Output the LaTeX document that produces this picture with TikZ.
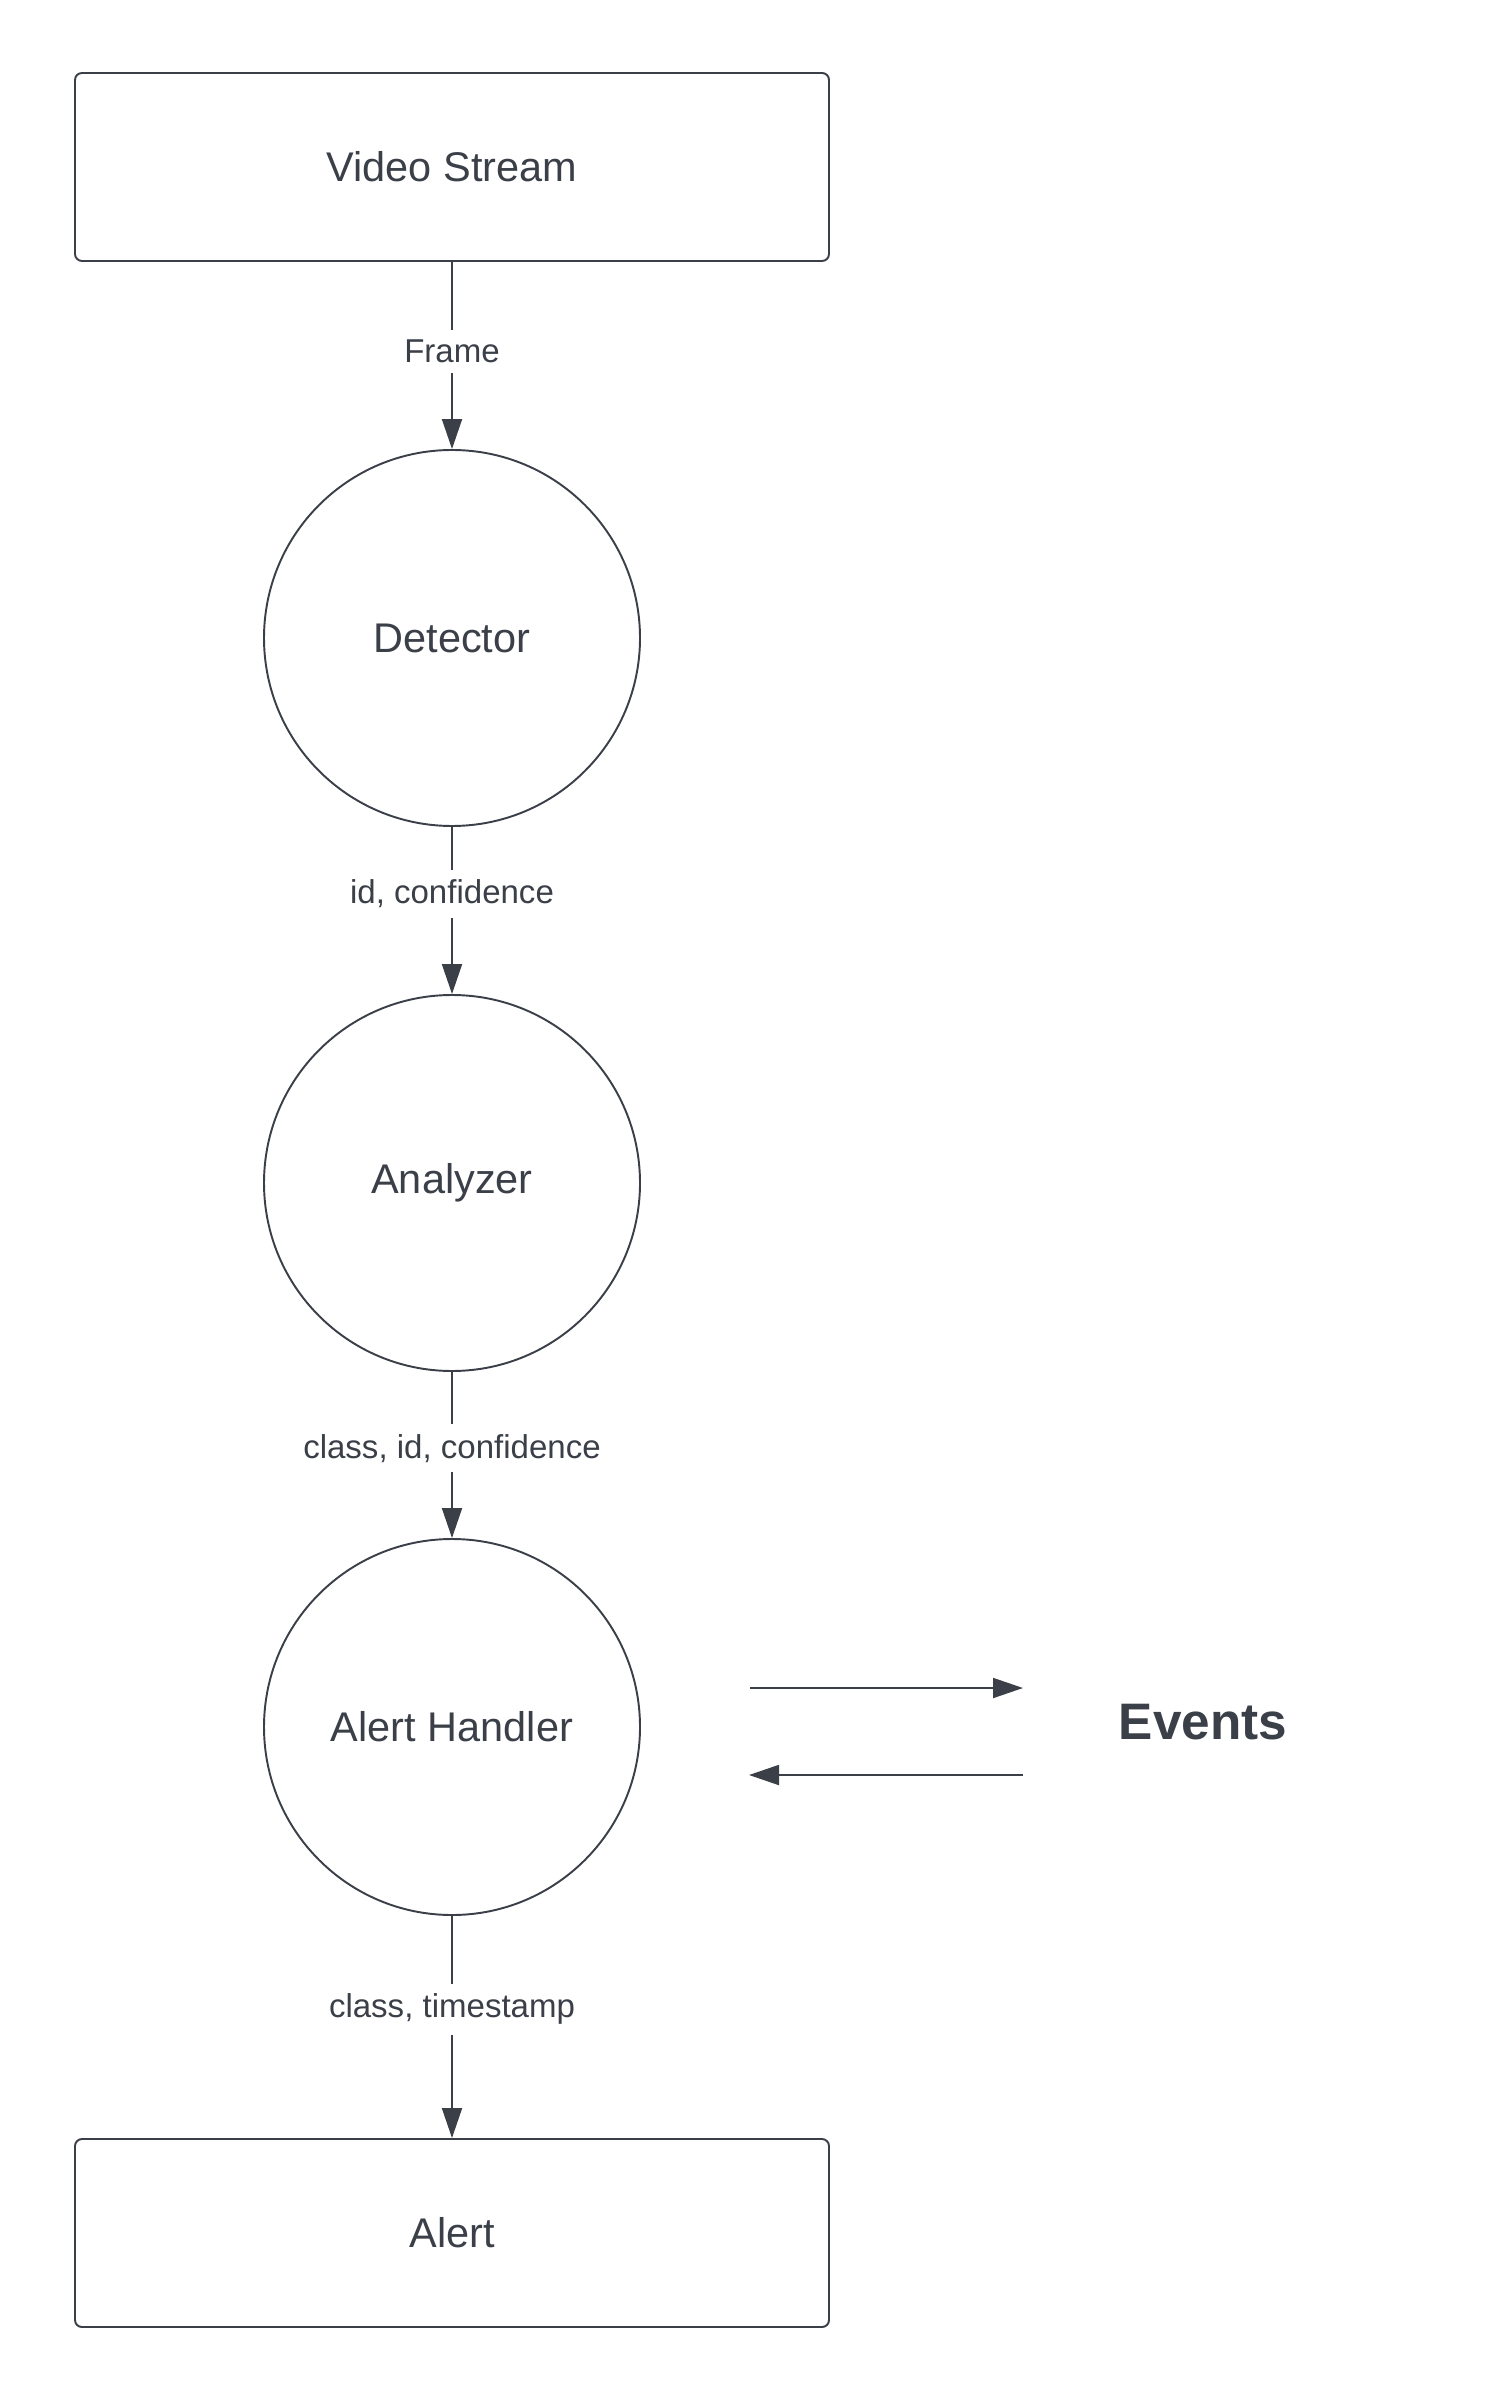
\documentclass[tikz,border=0pt]{standalone}
\usepackage{fontspec}
\setmainfont{Liberation Sans}
\usetikzlibrary{arrows.meta}
\definecolor{ink}{RGB}{58,63,72}
\newcommand{\procfont}{\fontsize{11.8}{14}\selectfont}
\newcommand{\lblfont}{\fontsize{9.4}{11}\selectfont}

\begin{document}
\begin{tikzpicture}[
    box/.style={draw=ink,line width=0.55pt,rounded corners=0.07cm,minimum width=7.54cm,minimum height=1.88cm,text=ink,font=\procfont},
    proc/.style={draw=ink,line width=0.55pt,circle,minimum size=3.76cm,text=ink,font=\procfont},
    flow/.style={draw=ink,line width=0.55pt,-{Triangle[length=0.3cm,width=0.2cm]}},
    lbl/.style={fill=white,text=ink,font=\lblfont,inner sep=0.1cm}
  ]
    \useasboundingbox (0,0) rectangle (15,-24);
    \node[box] (vs) at (4.52,-1.67) {Video Stream};
    \foreach \n/\t/\y in {det/Detector/6.38,ana/Analyzer/11.83,ah/Alert Handler/17.27}{
    \node[proc] (\n) at (4.52,-\y) {\t};
    }
    \node[box] (alert) at (4.52,-22.33) {Alert};
    \node[text=ink,font=\fontsize{14.6}{18}\selectfont\bfseries] (events) at (12.03,-17.22) {Events};
    \foreach \a/\b/\l/\p in {vs/det/Frame/0.48,det/ana/{id, confidence}/0.4,ana/ah/{class, id, confidence}/0.46,ah/alert/{class, timestamp}/0.42}{
    \draw[flow] (\a) -- node[lbl,pos=\p]{\l} (\b);
    }
    \coordinate (outA) at (7.50,-16.88);
    \coordinate (outB) at (10.23,-16.88);
    \coordinate (inA) at (10.23,-17.75);
    \coordinate (inB) at (7.49,-17.75);
    \draw[flow] (outA) -- (outB);
    \draw[flow] (inA) -- (inB);
  \end{tikzpicture}
\end{document}
